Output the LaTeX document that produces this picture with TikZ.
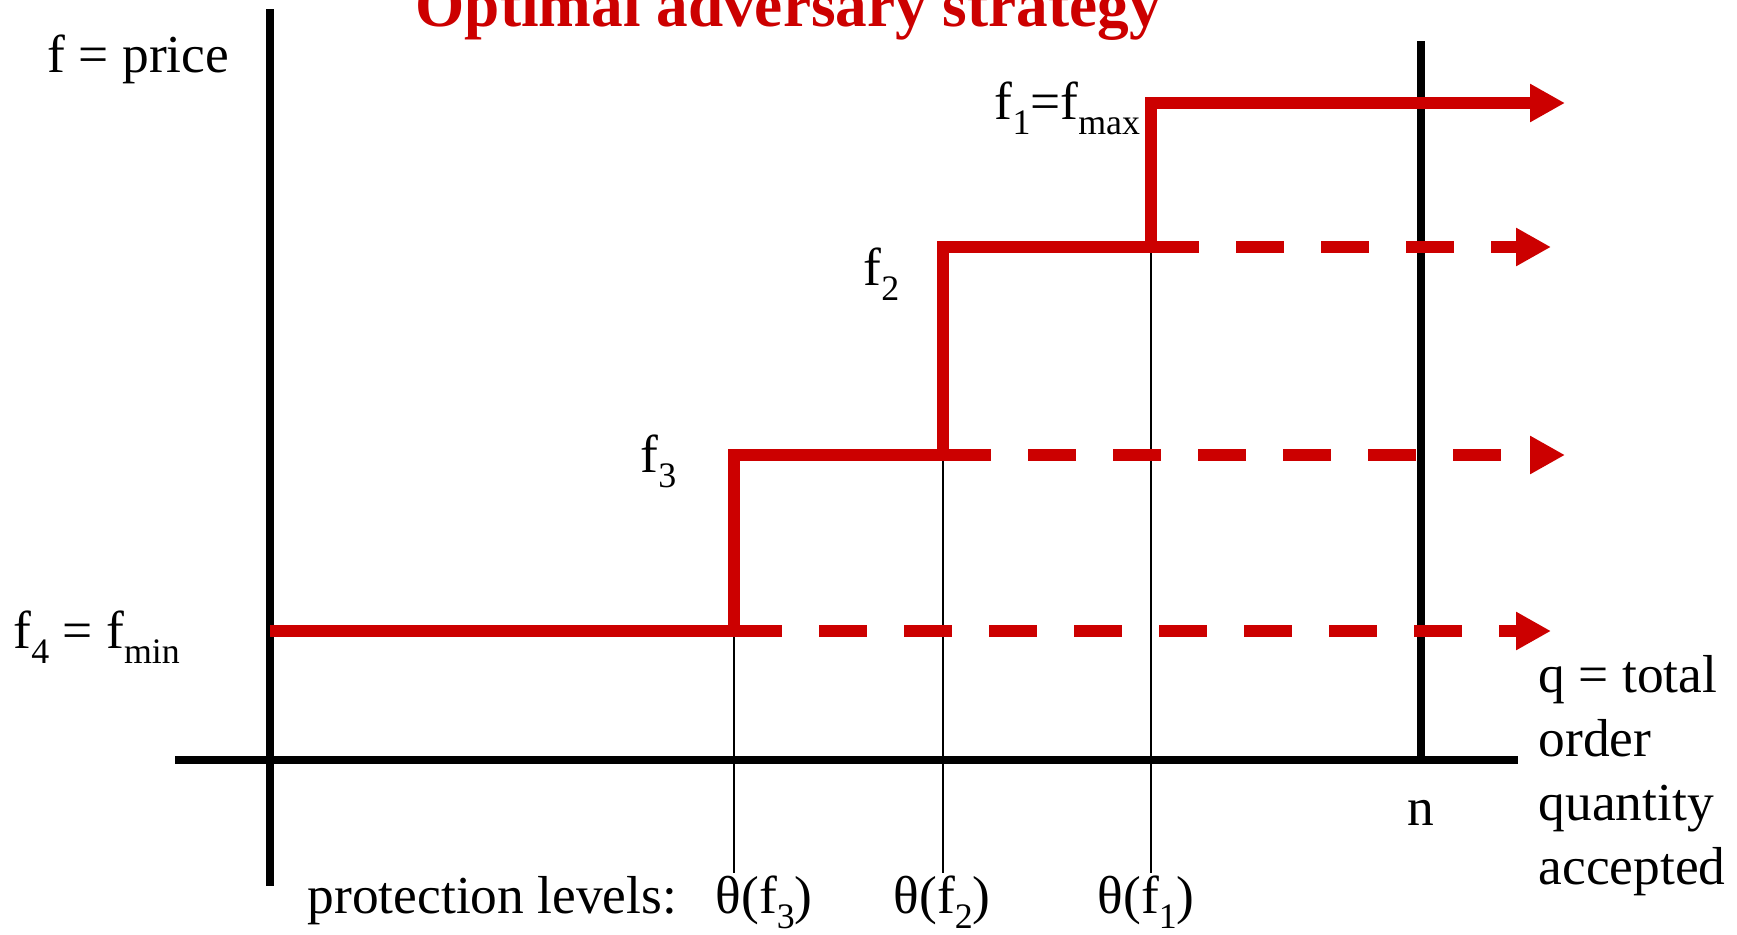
\documentclass[tikz,border=0pt]{standalone}
\usepackage{fontspec}
\setmainfont{Liberation Serif}
\usetikzlibrary{arrows.meta}
\definecolor{stepred}{HTML}{CC0000}
\newcommand{\lowsub}[1]{\raisebox{-0.29em}{\fontsize{10.2}{12}\selectfont #1}}
\tikzset{lbl/.style={anchor=base west,inner sep=0pt,font=\fontsize{15.2}{18.2}\selectfont},
  level/.style={stepred,line width=0.12cm,-{Triangle[length=0.35cm,width=0.36cm]}},
  dashlevel/.style={level,dash pattern=on 0.48cm off 0.37cm},
  axis/.style={line width=0.08cm},
  guide/.style={line width=0.6pt}}

\begin{document}
\begin{tikzpicture}
\useasboundingbox (0,0) rectangle (17.37,9.34);
% axes
\draw[axis] (2.70,9.25)--(2.70,0.48);\draw[axis] (1.75,1.74)--(15.18,1.74);\draw[axis] (14.21,8.93)--(14.21,1.74);
% step corners
\coordinate (a4) at (2.70,3.03);\coordinate (b3) at (7.34,3.03);\coordinate (a3) at (7.34,4.79);
\coordinate (b2) at (9.43,4.79);\coordinate (a2) at (9.43,6.87);\coordinate (b1) at (11.51,6.87);\coordinate (a1) at (11.51,8.31);
\foreach \c in {b3,b2,b1}{\draw[guide] (\c)--(\c|-0,0.61);}
\draw[level] (a4)--(b3)--(a3)--(b2)--(a2)--(b1)--(a1)--(15.65,8.31);
\draw[dashlevel] (b1)--(15.51,6.87);\draw[dashlevel] (b2)--(15.65,4.79);\draw[dashlevel] (b3)--(15.51,3.03);
% labels
\node[anchor=base west,inner sep=0pt,text=stepred,font=\fontsize{18}{20}\selectfont\bfseries] (title) at (4.15,9.08){Optimal adversary strategy};
\node[lbl] (price) at (0.47,8.62){f = price};
\node[lbl] (fone) at (9.94,8.15){f\lowsub{1}=f\lowsub{max}};
\node[lbl] (ftwo) at (8.63,6.49){f\lowsub{2}};
\node[lbl] (fthree) at (6.40,4.62){f\lowsub{3}};
\node[lbl] (ffour) at (0.13,2.86){f\lowsub{4} = f\lowsub{min}};
\node[lbl] (n) at (14.07,1.09){n};
\node[lbl,align=left] (qlab) at (15.38,0.50){q = total\\order\\quantity\\accepted};
\node[lbl] (prot) at (3.07,0.21){protection levels:};
\node[lbl] (th3) at (7.15,0.21){θ(f\lowsub{3})};
\node[lbl] (th2) at (8.93,0.21){θ(f\lowsub{2})};
\node[lbl] (th1) at (10.97,0.21){θ(f\lowsub{1})};
\end{tikzpicture}
\end{document}
